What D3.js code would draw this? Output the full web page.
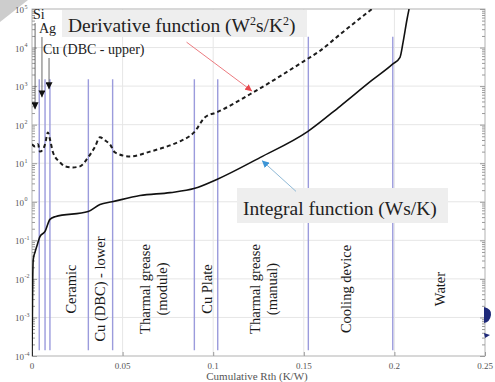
<!DOCTYPE html>
<html>
<head>
<meta charset="utf-8">
<script src="https://cdn.jsdelivr.net/npm/d3@7"></script>
<style>
  html, body { margin: 0; padding: 0; background: #fff; }
  svg { display: block; }
  text { font-family: "Liberation Serif", "DejaVu Serif", serif; }
</style>
</head>
<body>
<svg id="chart" width="495" height="382"></svg>
<script>
"use strict";

// axis ticks
const xTicks = [0, 0.05, 0.1, 0.15, 0.2, 0.25];
const xTickLabels = ["0", "0.05", "0.1", "0.15", "0.2", "0.25"];
const yExponents = [-4, -3, -2, -1, 0, 1, 2, 3, 4, 5];

// integral structure function (Ws/K)
const integralX = [0, 0.0002, 0.0004, 0.0007, 0.0017, 0.0026, 0.0044, 0.0072, 0.0099, 0.0127,
    0.031, 0.0375, 0.0442, 0.0596, 0.0762, 0.0894, 0.102, 0.1258, 0.1523, 0.170,
    0.1875, 0.199, 0.2031, 0.2048, 0.207, 0.2081];
const integralY = [1e-4, 1e-3, 1e-2, 0.032, 0.05, 0.069, 0.125, 0.17, 0.35, 0.41,
    0.56, 0.85, 1.0, 1.45, 1.73, 2.2, 3.8, 14, 67, 300,
    1400, 3700, 5600, 13800, 55000, 1e5];

// derivative structure function (W²s/K²)
const derivX = [0, 0.0017, 0.0033, 0.0044, 0.0061, 0.0072, 0.0088, 0.0099, 0.0116, 0.0155,
    0.0182, 0.0226, 0.0265, 0.0309, 0.0348, 0.0375, 0.0403, 0.043, 0.0458, 0.0541,
    0.0651, 0.0762, 0.0817, 0.0894, 0.0955, 0.1021, 0.1203, 0.1518, 0.1586, 0.170, 0.1876];
const derivY = [31, 27, 31, 20, 23, 31, 63, 42, 19, 10.5,
    8.3, 7.8, 8.3, 14, 27, 47, 39, 31, 19, 15,
    20, 29, 37, 63, 155, 210, 615, 5000, 8000, 22000, 1e5];

// layer boundaries (blue lines)
const layerBounds = [0.0040, 0.0072, 0.0099, 0.0311, 0.0445, 0.0896, 0.1025, 0.1525, 0.1991];
const layerTops = [1500, 1500, 1500, 1500, 1500, 1500, 1500, 19000, 19000];
const layerBottom = 1.4e-4;

// layer names (vertical labels)
const layerNames = [["Ceramic"], ["Cu (DBC) - lower"], ["Tharmal grease", "(module)"], ["Cu Plate"],
    ["Tharmal grease", "(manual)"], ["Cooling device"], ["Water"]];
const layerLabelX = [0.0215, 0.0375, 0.0672, 0.0965, 0.1278, 0.1735, 0.2252];

// pointed-at layers near x = 0
const pointNames = ["Si", "Ag", "Cu (DBC - upper)"];
const pointX = [0.0017, 0.0055, 0.0094];
const pointTip = [250, 510, 830];

const size = {width: 495, height: 382, left: 32, right: 485, top: 9, bottom: 356};

const svg = d3.select("#chart");

const x = d3.scaleLinear().domain([0, 0.25]).range([size.left, size.right]);
const y = d3.scaleLog().domain([1e-4, 1e5]).range([size.bottom, size.top]);

// page-curl corner
svg.append("path")
    .attr("d", "M0,0 L28,0 L0,22 Z")
    .attr("fill", "#cdcdcd");

svg.append("defs").append("clipPath").attr("id", "plot-clip")
    .append("rect")
    .attr("x", size.left).attr("y", size.top)
    .attr("width", size.right - size.left).attr("height", size.bottom - size.top);

// grid
const grid = svg.append("g").attr("class", "grid");
grid.selectAll("line.h")
    .data(yExponents)
    .enter().append("line")
    .attr("class", "h")
    .attr("x1", size.left).attr("x2", size.right)
    .attr("y1", (d) => y(Math.pow(10, d))).attr("y2", (d) => y(Math.pow(10, d)))
    .attr("stroke", "#e6e6e6").attr("stroke-width", 1);
grid.selectAll("line.v")
    .data(xTicks)
    .enter().append("line")
    .attr("class", "v")
    .attr("x1", (d) => x(d)).attr("x2", (d) => x(d))
    .attr("y1", size.top).attr("y2", size.bottom)
    .attr("stroke", "#e6e6e6").attr("stroke-width", 1);

// frame
svg.append("rect")
    .attr("x", size.left).attr("y", size.top)
    .attr("width", size.right - size.left).attr("height", size.bottom - size.top)
    .attr("fill", "none").attr("stroke", "#bdbdbd").attr("stroke-width", 1);

// log ticks, both sides
const minorVals = [];
yExponents.slice(0, -1).forEach((e) => {
    for (let m = 2; m <= 9; m++) minorVals.push(m * Math.pow(10, e));
});
const leftAxis = svg.append("g").attr("transform", "translate(" + size.left + ",0)")
    .call(d3.axisRight(y).tickValues(minorVals).tickFormat("").tickSize(3));
const leftMajor = svg.append("g").attr("transform", "translate(" + size.left + ",0)")
    .call(d3.axisRight(y).tickValues(yExponents.map((e) => Math.pow(10, e))).tickFormat("").tickSize(5));
const rightAxis = svg.append("g").attr("transform", "translate(" + size.right + ",0)")
    .call(d3.axisLeft(y).tickValues(minorVals).tickFormat("").tickSize(3));
const rightMajor = svg.append("g").attr("transform", "translate(" + size.right + ",0)")
    .call(d3.axisLeft(y).tickValues(yExponents.map((e) => Math.pow(10, e))).tickFormat("").tickSize(5));
const bottomAxis = svg.append("g").attr("transform", "translate(0," + size.bottom + ")")
    .call(d3.axisTop(x).tickValues(xTicks).tickFormat("").tickSize(4));
[leftAxis, leftMajor, rightAxis, rightMajor, bottomAxis].forEach((a) => {
    a.select("path").remove();
    a.selectAll("line").attr("stroke", "#9a9a9a");
});

// y tick labels 10^n
const yLab = svg.append("g").selectAll("text")
    .data(yExponents)
    .enter().append("text")
    .attr("x", 24)
    .attr("y", (d) => y(Math.pow(10, d)) + 4)
    .attr("text-anchor", "end")
    .attr("font-size", 9)
    .attr("fill", "#555")
    .text("10");
yLab.each(function(d) {
    d3.select(this.parentNode).append("text")
        .attr("x", 24.5)
        .attr("y", y(Math.pow(10, d)) - 0.5)
        .attr("font-size", 6)
        .attr("fill", "#555")
        .text(d < 0 ? "-" + Math.abs(d) : d);
});

// x tick labels
svg.append("g").selectAll("text")
    .data(xTicks)
    .enter().append("text")
    .attr("x", (d) => x(d))
    .attr("y", 369)
    .attr("text-anchor", "middle")
    .attr("font-size", 9)
    .attr("fill", "#555")
    .text((d, i) => xTickLabels[i]);

svg.append("text")
    .attr("x", 257).attr("y", 380)
    .attr("text-anchor", "middle")
    .attr("font-size", 11)
    .attr("fill", "#555")
    .text("Cumulative Rth (K/W)");

// layer boundaries
svg.append("g").selectAll("line")
    .data(layerBounds)
    .enter().append("line")
    .attr("x1", (d) => x(d)).attr("x2", (d) => x(d))
    .attr("y1", (d, i) => y(layerTops[i])).attr("y2", y(layerBottom))
    .attr("stroke", "#9b9bdc").attr("stroke-width", 1.4);

// layer names
const names = svg.append("g").selectAll("g")
    .data(layerNames)
    .enter().append("g")
    .attr("transform", (d, i) => "translate(" + x(layerLabelX[i]) + ",289) rotate(-90)");
names.each(function(lines) {
    const g = d3.select(this);
    lines.forEach((s, k) => {
        g.append("text")
            .attr("x", 0)
            .attr("y", (k - (lines.length - 1) / 2) * 17)
            .attr("dy", "0.35em")
            .attr("text-anchor", "middle")
            .attr("font-size", 14.5)
            .attr("fill", "#1a1a1a")
            .text(s);
    });
});

// curves
const plot = svg.append("g").attr("clip-path", "url(#plot-clip)");
const line = d3.line()
    .x((d) => x(d[0]))
    .y((d) => y(d[1]))
    .curve(d3.curveMonotoneX);

plot.append("path")
    .datum(derivX.map((v, i) => [v, derivY[i]]))
    .attr("d", line)
    .attr("fill", "none")
    .attr("stroke", "#1c1c1c")
    .attr("stroke-width", 2)
    .attr("stroke-dasharray", "4,3");

plot.append("path")
    .datum(integralX.map((v, i) => [v, integralY[i]]))
    .attr("d", line)
    .attr("fill", "none")
    .attr("stroke", "#111")
    .attr("stroke-width", 1.6);

// arrow markers
const defs = svg.select("defs");
[["arr-black", "#111"], ["arr-red", "#e8474d"], ["arr-blue", "#3d95d6"]].forEach((m) => {
    defs.append("marker")
        .attr("id", m[0])
        .attr("viewBox", "0 0 10 10")
        .attr("refX", 10).attr("refY", 5)
        .attr("markerWidth", 7).attr("markerHeight", 7)
        .attr("markerUnits", "userSpaceOnUse")
        .attr("orient", "auto")
        .append("path")
        .attr("d", "M0,0 L10,5 L0,10 Z")
        .attr("fill", m[1]);
});

// Si / Ag / Cu pointers
const labelY = [19, 33, 54];
const labelDx = [-2, -3, -6];
pointNames.forEach((n, i) => {
    svg.append("text")
        .attr("x", x(pointX[i]) + labelDx[i])
        .attr("y", labelY[i])
        .attr("font-size", 14)
        .attr("fill", "#222")
        .text(n);
    svg.append("line")
        .attr("x1", x(pointX[i])).attr("x2", x(pointX[i]))
        .attr("y1", labelY[i] + 4).attr("y2", y(pointTip[i]))
        .attr("stroke", "#444").attr("stroke-width", 0.8)
        .attr("marker-end", "url(#arr-black)");
});

// legend boxes
const derivBox = svg.append("g");
derivBox.append("rect")
    .attr("x", 62).attr("y", 10).attr("width", 245).attr("height", 27)
    .attr("fill", "#eeeeee");
const dt = derivBox.append("text")
    .attr("x", 68).attr("y", 32)
    .attr("font-size", 19.5)
    .attr("fill", "#222");
dt.append("tspan").text("Derivative function (W");
dt.append("tspan").attr("font-size", 12).attr("dy", -7).text("2");
dt.append("tspan").attr("dy", 7).text("s/K");
dt.append("tspan").attr("font-size", 12).attr("dy", -7).text("2");
dt.append("tspan").attr("dy", 7).text(")");

const integBox = svg.append("g");
integBox.append("rect")
    .attr("x", 237).attr("y", 188).attr("width", 211).attr("height", 35)
    .attr("fill", "#eeeeee");
integBox.append("text")
    .attr("x", 243).attr("y", 215)
    .attr("font-size", 19.5)
    .attr("fill", "#222")
    .text("Integral function (Ws/K)");

// pointer arrows to the curves
svg.append("line")
    .attr("x1", x(0.0853)).attr("y1", y(13800))
    .attr("x2", x(0.1215)).attr("y2", y(740))
    .attr("stroke", "#ec7b80").attr("stroke-width", 1)
    .attr("marker-end", "url(#arr-red)");
svg.append("line")
    .attr("x1", x(0.1457)).attr("y1", y(1.86))
    .attr("x2", x(0.1269)).attr("y2", y(11.7))
    .attr("stroke", "#8fb9d6").attr("stroke-width", 1)
    .attr("marker-end", "url(#arr-blue)");

// scanner specks at right edge
svg.append("path")
    .attr("d", "M484,307 Q492,309 491,315 Q490,322 484,323 Z")
    .attr("fill", "#1f2a7a");
svg.append("path")
    .attr("d", "M484,333 L490,335 L485,338 Z")
    .attr("fill", "#1f2a7a");
</script>
</body>
</html>
